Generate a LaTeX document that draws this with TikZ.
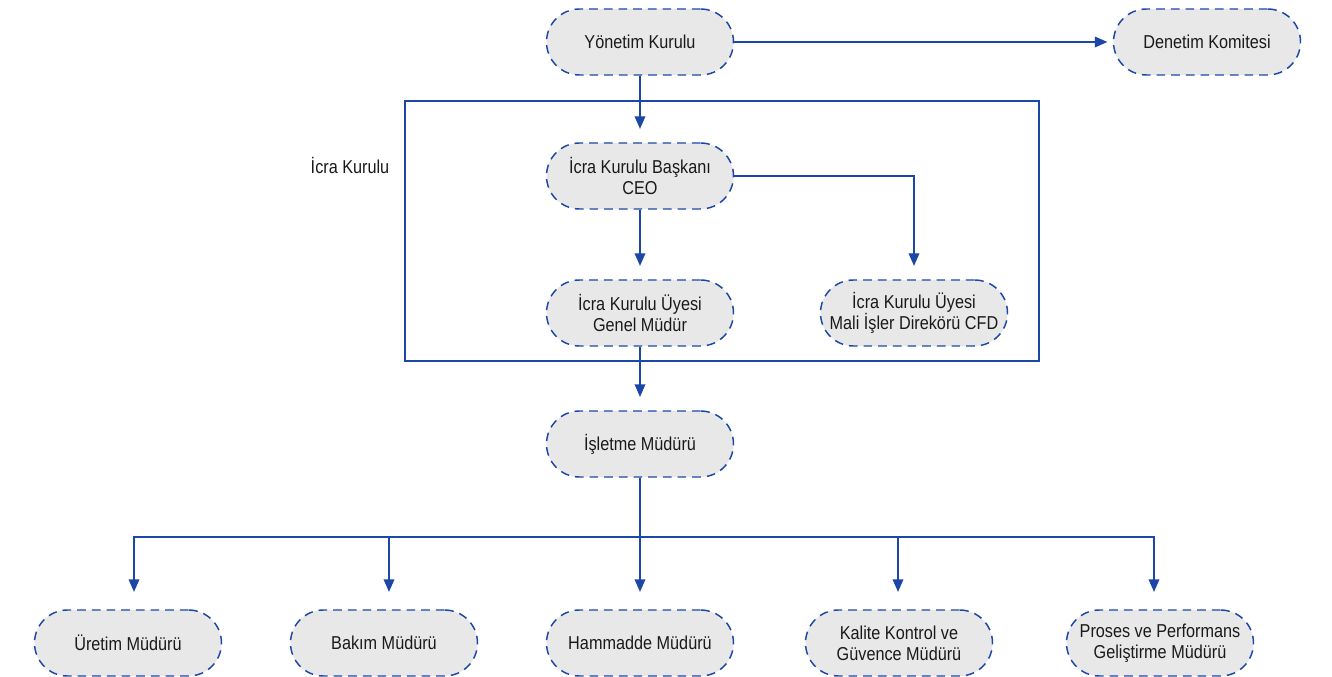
\documentclass[tikz,border=0pt]{standalone}
\usepackage{fontspec}
\setmainfont{Liberation Sans}[FakeStretch=0.87]
\usetikzlibrary{arrows.meta,calc}
\definecolor{lineblue}{HTML}{1C47A6}
\definecolor{boxgrey}{HTML}{E8E8E8}
\definecolor{txt}{HTML}{1A1A1A}
\begin{document}
\begin{tikzpicture}[x=0.75pt,y=-0.75pt,
  lbl/.style={text=txt, font=\fontsize{14}{15.5}\selectfont},
  box/.style={lbl, draw=lineblue, fill=boxgrey, line width=1.1pt, dash pattern=on 6.5pt off 4.5pt,
    rounded corners=24.75pt, minimum width=140.25pt, minimum height=49.5pt,
    align=center, inner sep=2pt},
  conn/.style={draw=lineblue, line width=1.1pt, -{Triangle[length=9.5pt,width=8pt]}},
  plain/.style={draw=lineblue, line width=1.1pt}]
\useasboundingbox (0,0) rectangle (1332,677);
\fill[white] (0,0) rectangle (1332,677);
\draw[lineblue, line width=1.1pt] (405,101) rectangle (1039,361);
\node[lbl] (icra) at (350,165) {İcra Kurulu};
\node[box] (yk) at (640,42) {Yönetim Kurulu};
\node[box] (dk) at (1207,42) {Denetim Komitesi};
\node[box] (ceo) at (640,176) {İcra Kurulu Başkanı\\CEO};
\node[box] (gm) at (640,313) {İcra Kurulu Üyesi\\Genel Müdür};
\node[box] (cfd) at (914,313) {İcra Kurulu Üyesi\\Mali İşler Direkörü CFD};
\node[box] (im) at (640,444) {İşletme Müdürü};
\node[box] (b1) at (128,643) {Üretim Müdürü};
\node[box] (b2) at (384,643) {Bakım Müdürü};
\node[box] (b3) at (640,643) {Hammadde Müdürü};
\node[box] (b4) at (899,643) {Kalite Kontrol ve\\Güvence Müdürü};
\node[box] (b5) at (1160,643) {Proses ve Performans\\Geliştirme Müdürü};
\coordinate (bus) at (640,537);
\draw[conn, shorten >=4pt] (yk.east) -- (dk.west);
\draw[conn, shorten >=10pt] (yk.south) -- (ceo.north);
\draw[conn, shorten >=10pt] (ceo.south) -- (gm.north);
\draw[conn, shorten >=10pt] (ceo.east) -| (cfd.north);
\draw[conn, shorten >=10pt] (gm.south) -- (im.north);
\draw[plain] (im.south) -- (bus);
\draw[conn, shorten >=13pt] (bus) -| ([xshift=4.5pt]b1.north);
\draw[conn, shorten >=13pt] (bus) -| ([xshift=3.75pt]b2.north);
\draw[conn, shorten >=13pt] (bus) -- (b3.north);
\draw[conn, shorten >=13pt] (bus) -| ([xshift=-0.75pt]b4.north);
\draw[conn, shorten >=13pt] (bus) -| ([xshift=-4.5pt]b5.north);
\end{tikzpicture}
\end{document}
